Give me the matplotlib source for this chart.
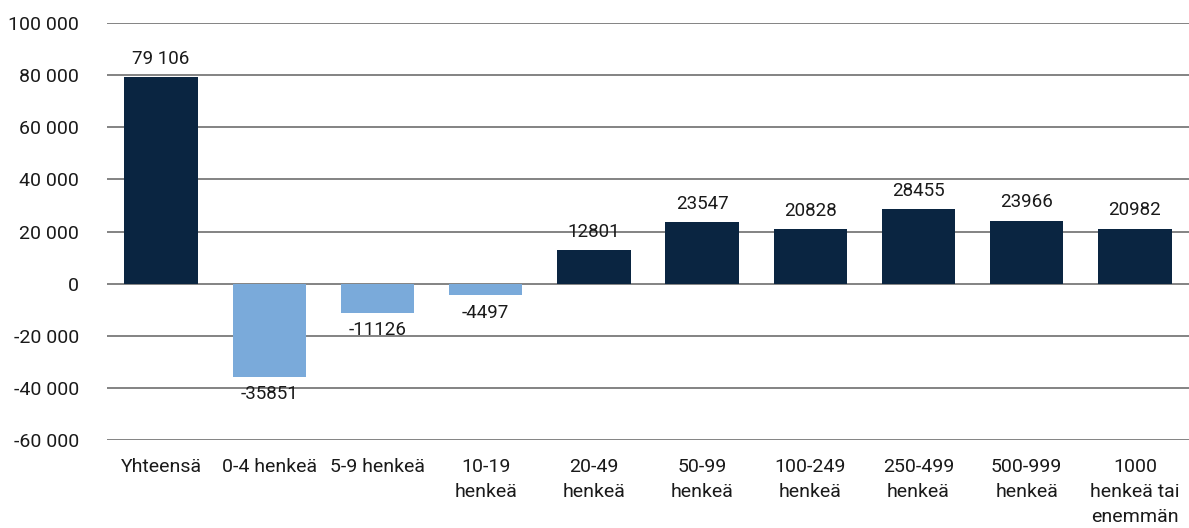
import matplotlib.pyplot as plt
import numpy as np

# Data
categories = ['Yhteensä', '0-4 henkeä', '5-9 henkeä', '10-19\nhenkeä', '20-49\nhenkeä',
              '50-99\nhenkeä', '100-249\nhenkeä', '250-499\nhenkeä', '500-999\nhenkeä',
              '1000\nhenkeä tai\nenemmän']
values = [79106, -35851, -11126, -4497, 12801, 23547, 20828, 28455, 23966, 20982]
value_labels = ['79 106', '-35851', '-11126', '-4497', '12801', '23547', '20828', '28455', '23966', '20982']
yticks = [-60000, -40000, -20000, 0, 20000, 40000, 60000, 80000, 100000]

plt.rcParams['font.family'] = ['Roboto', 'DejaVu Sans']

fig = plt.figure(figsize=(11.89, 5.28), dpi=100)
ax = fig.add_axes([0.09, 0.1667, 0.91, 0.7897])

x = np.arange(len(categories))
colors = ['#0A2541' if v >= 0 else '#7AAADA' for v in values]
ax.bar(x, values, width=0.68, color=colors, zorder=3)

for xi, v, lab in zip(x, values, value_labels):
    if v >= 0:
        ax.annotate(lab, (xi, v), xytext=(0, 7), textcoords='offset points',
                    ha='center', va='bottom', fontsize=13.5, color='#1a1a1a')
    else:
        ax.annotate(lab, (xi, v), xytext=(0, -6), textcoords='offset points',
                    ha='center', va='top', fontsize=13.5, color='#1a1a1a')

ax.set_ylim(-60000, 100000)
ax.set_xlim(-0.5, len(categories) - 0.5)
ax.set_yticks(yticks)
ax.set_yticklabels([f'{t:,}'.replace(',', ' ') for t in yticks], fontsize=14, color='#1a1a1a')
ax.set_xticks(x)
ax.set_xticklabels(categories, fontsize=14, color='#1a1a1a', linespacing=1.5)
ax.tick_params(axis='both', length=0)
ax.tick_params(axis='y', pad=20)
ax.tick_params(axis='x', pad=13)
ax.grid(axis='y', color='#6E6E6E', linewidth=1.2, zorder=0)
for s in ax.spines.values():
    s.set_visible(False)

plt.savefig('out.png', dpi=100)
